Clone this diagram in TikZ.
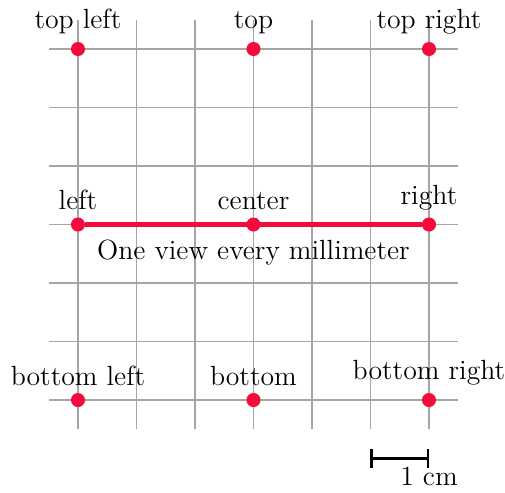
\documentclass[tikz,border=0pt]{standalone}
\usepackage{tikz}
\usetikzlibrary{arrows.meta, positioning}
\definecolor{viewred}{RGB}{245,10,60}
\definecolor{gridgray}{RGB}{165,165,165}

\begin{document}
\begin{tikzpicture}[
      font=\fontsize{13.5}{16}\selectfont,
      dot/.style={circle, fill=viewred, inner sep=0pt, minimum size=0.24cm},
      viewline/.style={draw=viewred, line width=2pt},
      scalebar/.style={draw=black, line width=1.2pt, {Bar[width=9pt]}-{Bar[width=9pt]}}
    ]
      \useasboundingbox (-4.333,-4.573) rectangle (4.299,3.838);
      \draw[gridgray, line width=0.7pt, step=1cm] (-3.5,-3.5) grid (3.5,3.5);

      \node[dot, label=above:{top left}] (tl) at (-3,3) {};
      \node[dot, label=above:{top}] (t) at (0,3) {};
      \node[dot, label=above:{top right}] (tr) at (3,3) {};

      \node[dot, label=above:{left}] (l) at (-3,0) {};
      \node[dot, label=above:{center}, label={[label distance=0.5pt]below:One view every millimeter}] (c) at (0,0) {};
      \node[dot, label=above:{right}] (r) at (3,0) {};

      \node[dot, label=above:{bottom left}] (bl) at (-3,-3) {};
      \node[dot, label=above:{bottom}] (b) at (0,-3) {};
      \node[dot, label=above:{bottom right}] (br) at (3,-3) {};

      \draw[viewline] (l) -- (r);

      % scale bar
      \coordinate (sa) at (2,-4);
      \coordinate (sb) at (3,-4);
      \draw[scalebar] (sa) -- (sb) node[below] {1 cm};
    \end{tikzpicture}
\end{document}
